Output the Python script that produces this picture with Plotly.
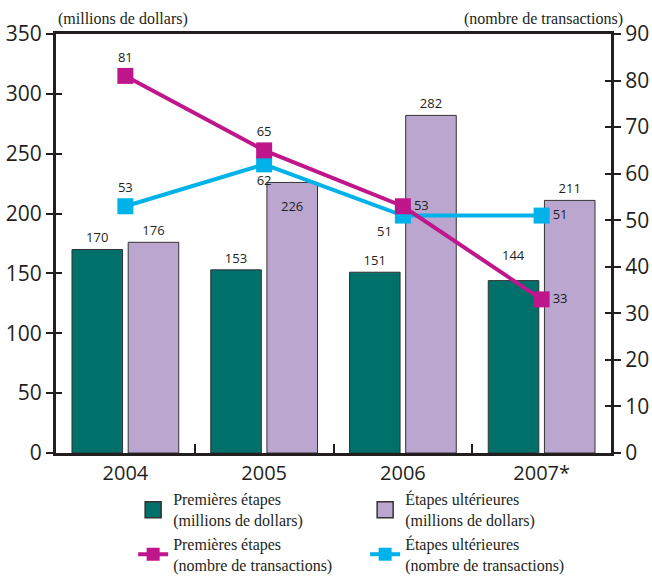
import plotly.graph_objects as go

# Data
years = ["2004", "2005", "2006", "2007*"]
early_dollars = [170, 153, 151, 144]       # Premières étapes (millions de dollars)
later_dollars = [176, 226, 282, 211]       # Étapes ultérieures (millions de dollars)
early_deals = [81, 65, 53, 33]             # Premières étapes (nombre de transactions)
later_deals = [53, 62, 51, 51]             # Étapes ultérieures (nombre de transactions)

TEAL = "#00706B"
LILAC = "#BBA6D0"
MAGENTA = "#C0168C"
CYAN = "#00B2EA"
INK = "#231F20"
SANS = "Open Sans"
SERIF = "Liberation Serif"
LABEL_FONT = dict(family=SANS, size=13, color=INK)

# Bar value labels: indices listed here are placed by annotation to stay clear of the lines
early_moved = {3}
later_moved = {1}
early_text = ["" if i in early_moved else str(v) for i, v in enumerate(early_dollars)]
later_text = ["" if i in later_moved else str(v) for i, v in enumerate(later_dollars)]

fig = go.Figure()

fig.add_trace(go.Bar(
    x=years, y=early_dollars, name="Premières étapes<br>(millions de dollars)",
    marker=dict(color=TEAL, line=dict(color="#333333", width=1)),
    text=early_text, textposition="outside", cliponaxis=False,
    textfont=LABEL_FONT, showlegend=False,
))
fig.add_trace(go.Bar(
    x=years, y=later_dollars, name="Étapes ultérieures<br>(millions de dollars)",
    marker=dict(color=LILAC, line=dict(color="#333333", width=1)),
    text=later_text, textposition="outside", cliponaxis=False,
    textfont=LABEL_FONT, showlegend=False,
))

fig.add_trace(go.Scatter(
    x=years, y=later_deals, yaxis="y2", mode="lines+markers+text",
    name="Étapes ultérieures<br>(nombre de transactions)",
    line=dict(color=CYAN, width=4), marker=dict(symbol="square", size=16, color=CYAN),
    text=later_deals, textposition=["top center", "bottom center", "bottom left", "middle right"],
    textfont=LABEL_FONT, cliponaxis=False, showlegend=False,
))
fig.add_trace(go.Scatter(
    x=years, y=early_deals, yaxis="y2", mode="lines+markers+text",
    name="Premières étapes<br>(nombre de transactions)",
    line=dict(color=MAGENTA, width=4), marker=dict(symbol="square", size=16, color=MAGENTA),
    text=early_deals, textposition=["top center", "top center", "middle right", "middle right"],
    textfont=LABEL_FONT, cliponaxis=False, showlegend=False,
))

# Legend entries (two columns: bars on the first row, lines on the second)
legend_items = [
    ("Premières étapes<br>(millions de dollars)", dict(mode="markers", marker=dict(symbol="square", size=18, color=TEAL, line=dict(color="#333333", width=1.5)))),
    ("Étapes ultérieures<br>(millions de dollars)", dict(mode="markers", marker=dict(symbol="square", size=18, color=LILAC, line=dict(color="#333333", width=1.5)))),
    ("Premières étapes<br>(nombre de transactions)", dict(mode="lines+markers", line=dict(color=MAGENTA, width=4), marker=dict(symbol="square", size=13, color=MAGENTA))),
    ("Étapes ultérieures<br>(nombre de transactions)", dict(mode="lines+markers", line=dict(color=CYAN, width=4), marker=dict(symbol="square", size=13, color=CYAN))),
]
for name, style in legend_items:
    fig.add_trace(go.Scatter(x=[None], y=[None], name=name, showlegend=True, **style))

# Helper traces so the inward tick overlays get drawn
fig.add_trace(go.Scatter(x=[None], y=[None], yaxis="y3", showlegend=False, hoverinfo="skip"))
fig.add_trace(go.Scatter(x=[None], y=[None], yaxis="y4", showlegend=False, hoverinfo="skip"))

axis_line = dict(showline=True, linecolor=INK, linewidth=3, showgrid=False, zeroline=False)

annotations = [
    dict(text="(millions de dollars)", xref="paper", yref="paper", x=0.0, y=1.0,
         xanchor="left", yanchor="bottom", yshift=4, showarrow=False,
         font=dict(family=SERIF, size=16, color=INK)),
    dict(text="(nombre de transactions)", xref="paper", yref="paper", x=1.025, y=1.0,
         xanchor="right", yanchor="bottom", yshift=4, showarrow=False,
         font=dict(family=SERIF, size=16, color=INK)),
]
# Bar labels moved off the crossing lines (x given as category index)
for i in early_moved:
    annotations.append(dict(text=str(early_dollars[i]), x=i, y=early_dollars[i],
                            xref="x", yref="y", xshift=-28, yshift=26, showarrow=False,
                            font=LABEL_FONT))
for i in later_moved:
    annotations.append(dict(text=str(later_dollars[i]), x=i, y=later_dollars[i],
                            xref="x", yref="y", xshift=28, yshift=-24, showarrow=False,
                            font=LABEL_FONT))

fig.update_layout(
    width=652, height=577,
    margin=dict(l=56, r=41, t=34, b=124, autoexpand=False),
    paper_bgcolor="white", plot_bgcolor="white",
    barmode="group", bargap=0.19, bargroupgap=0.1,
    font=dict(family=SANS, color=INK),
    xaxis=dict(**axis_line, type="category", mirror=True, ticks="inside", tickson="boundaries",
               ticklen=9, tickwidth=2, tickcolor=INK,
               tickfont=dict(family=SANS, size=20, color=INK)),
    yaxis=dict(**axis_line, range=[0, 350], dtick=50, ticks="outside", ticklen=7,
               tickwidth=2, tickcolor=INK, tickfont=dict(family=SANS, size=21, color=INK)),
    yaxis2=dict(**axis_line, range=[0, 90], dtick=10, overlaying="y", side="right",
                ticks="outside", ticklen=7, tickwidth=2, tickcolor=INK,
                tickfont=dict(family=SANS, size=21, color=INK)),
    yaxis3=dict(range=[0, 350], dtick=50, overlaying="y", side="left", showline=False,
                showgrid=False, zeroline=False, ticks="inside", ticklen=6, tickwidth=2,
                tickcolor=INK, showticklabels=False),
    yaxis4=dict(range=[0, 90], dtick=10, overlaying="y", side="right", showline=False,
                showgrid=False, zeroline=False, ticks="inside", ticklen=6, tickwidth=2,
                tickcolor=INK, showticklabels=False),
    legend=dict(orientation="h", x=0.139, xanchor="left", y=-0.07, yanchor="top",
                entrywidth=187, entrywidthmode="pixels", traceorder="normal",
                font=dict(family=SERIF, size=16, color=INK), bgcolor="rgba(0,0,0,0)",
                itemclick=False, itemdoubleclick=False),
    annotations=annotations,
)

fig.write_html("out.html")
